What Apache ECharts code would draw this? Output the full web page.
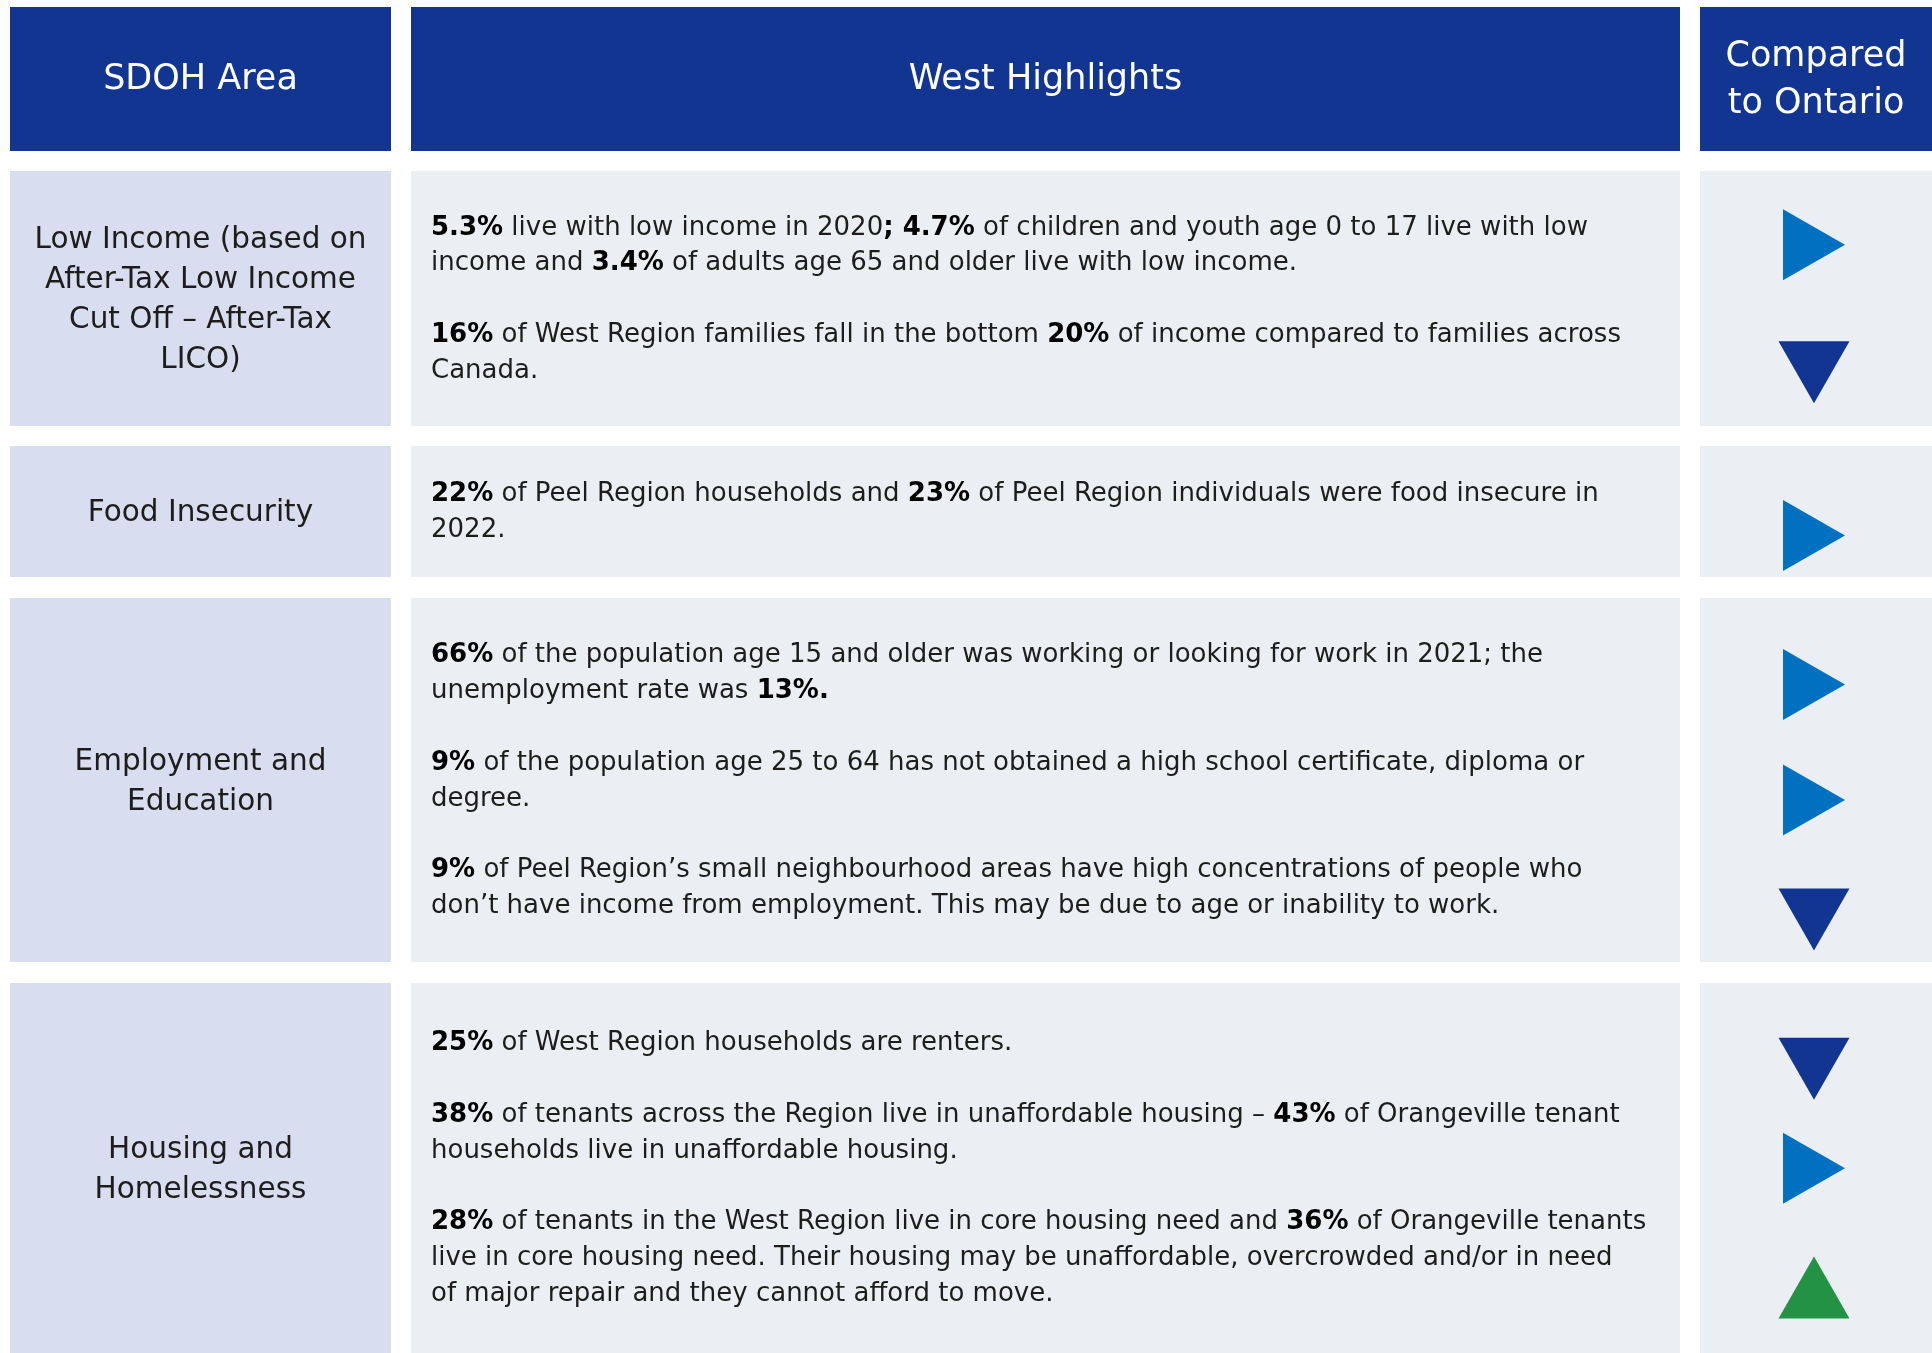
<!DOCTYPE html>
<html>
<head>
<meta charset="utf-8">
<script src="https://cdn.jsdelivr.net/npm/echarts@6/dist/echarts.min.js"></script>
<style>
  html, body { margin: 0; padding: 0; background: #ffffff; }
  #chart { width: 1932px; height: 1353px; }
</style>
</head>
<body>
<div id="chart"></div>
<script>
// ---- data ----
const headers = ['SDOH Area', 'West Highlights', 'Compared\nto Ontario']
const areas = [
  'Low Income (based on\nAfter-Tax Low Income\nCut Off – After-Tax\nLICO)',
  'Food Insecurity',
  'Employment and\nEducation',
  'Housing and\nHomelessness'
]
// each row: list of statements, each statement: list of wrapped lines ({b|..} = bold)
const highlights = [
  [
    ['{b|5.3%} live with low income in 2020{b|; 4.7%} of children and youth age 0 to 17 live with low',
      'income and {b|3.4%} of adults age 65 and older live with low income.'],
    ['{b|16%} of West Region families fall in the bottom {b|20%} of income compared to families across',
      'Canada.']
  ],
  [
    ['{b|22%} of Peel Region households and {b|23%} of Peel Region individuals were food insecure in',
      '2022.']
  ],
  [
    ['{b|66%} of the population age 15 and older was working or looking for work in 2021; the',
      'unemployment rate was {b|13%.}'],
    ['{b|9%} of the population age 25 to 64 has not obtained a high school certificate, diploma or',
      'degree.'],
    ['{b|9%} of Peel Region’s small neighbourhood areas have high concentrations of people who',
      'don’t have income from employment. This may be due to age or inability to work.']
  ],
  [
    ['{b|25%} of West Region households are renters.'],
    ['{b|38%} of tenants across the Region live in unaffordable housing – {b|43%} of Orangeville tenant',
      'households live in unaffordable housing.'],
    ['{b|28%} of tenants in the West Region live in core housing need and {b|36%} of Orangeville tenants',
      'live in core housing need. Their housing may be unaffordable, overcrowded and/or in need',
      'of major repair and they cannot afford to move.']
  ]
]
// compared to Ontario, one per statement
const comparisons = [
  ['similar', 'lower'],
  ['similar'],
  ['similar', 'similar', 'lower'],
  ['lower', 'similar', 'higher']
]

// ---- layout / style ----
const FONT = "'DejaVu Sans', sans-serif"
const colEdges = [[10, 391], [411, 1680], [1700, 1932]]
const rowEdges = [[7, 151], [171, 426], [446, 577], [598, 962], [983, 1353]]
const lineH = 35.8
const textPad = 20
const markerX = 1814
const markerShift = 20
// small per-marker vertical tweaks (px) so the arrows sit like in the source layout
const markerNudge = [[-20, 0], [4], [-8, 0, 12], [6, 16, 10]]
const colors = {
  header: '#113591',
  area: '#d8def0',
  body: '#ebeef2',
  text: '#1d1d1b'
}
const markerStyle = {
  similar: { color: '#0070c0', rotate: -90 },
  lower: { color: '#113591', rotate: 180 },
  higher: { color: '#239245', rotate: 0 }
}

const cells = []
for (let r = 0; r < rowEdges.length; r++) {
  for (let c = 0; c < colEdges.length; c++) cells.push([c, r])
}

function rowText (r) {
  return highlights[r].map(p => p.join('\n')).join('\n\n')
}

function markerData () {
  const pts = []
  highlights.forEach((paras, r) => {
    let total = 0
    const centers = []
    paras.forEach((p, i) => {
      if (i) total += 1
      centers.push(total + (p.length - 1) / 2)
      total += p.length
    })
    const [y0, y1] = rowEdges[r + 1]
    const mid = (y0 + y1) / 2
    centers.forEach((cl, i) => {
      const s = markerStyle[comparisons[r][i]]
      const y = mid + (cl - (total - 1) / 2) * lineH + markerShift + markerNudge[r][i]
      pts.push({
        value: [markerX, y],
        symbolRotate: s.rotate,
        itemStyle: { color: s.color, opacity: 1 }
      })
    })
  })
  return pts
}

function renderCell (params, api) {
  const c = api.value(0)
  const r = api.value(1)
  const p0 = api.coord([colEdges[c][0], rowEdges[r][0]])
  const p1 = api.coord([colEdges[c][1], rowEdges[r][1]])
  const w = p1[0] - p0[0]
  const h = p1[1] - p0[1]
  const children = []
  let fill = colors.body
  if (r === 0) fill = colors.header
  else if (c === 0) fill = colors.area
  children.push({ type: 'rect', shape: { x: p0[0], y: p0[1], width: w, height: h }, style: { fill: fill } })

  if (r === 0) {
    children.push({
      type: 'text',
      style: {
        text: headers[c], x: p0[0] + w / 2, y: p0[1] + h / 2 + 1,
        align: 'center', verticalAlign: 'middle',
        fill: '#ffffff', fontSize: 35, fontFamily: FONT, lineHeight: 47
      }
    })
  } else if (c === 0) {
    children.push({
      type: 'text',
      style: {
        text: areas[r - 1], x: p0[0] + w / 2, y: p0[1] + h / 2 + 2,
        align: 'center', verticalAlign: 'middle',
        fill: colors.text, fontSize: 29.5, fontFamily: FONT, lineHeight: 40
      }
    })
  } else if (c === 1) {
    children.push({
      type: 'text',
      style: {
        text: rowText(r - 1), x: p0[0] + textPad, y: p0[1] + h / 2 + 1,
        align: 'left', verticalAlign: 'middle',
        fill: colors.text, fontSize: 26, fontFamily: FONT, lineHeight: lineH,
        rich: {
          b: { fontSize: 26, fontFamily: FONT, fontWeight: 'bold', lineHeight: lineH, fill: '#000000' }
        }
      }
    })
  }
  return { type: 'group', children: children }
}

const chart = echarts.init(document.getElementById('chart'))
chart.setOption({
  animation: false,
  backgroundColor: '#ffffff',
  grid: { left: 0, right: 0, top: 0, bottom: 0 },
  xAxis: { type: 'value', min: 0, max: 1932, show: false },
  yAxis: { type: 'value', min: 0, max: 1353, inverse: true, show: false },
  series: [{
    type: 'custom',
    data: cells,
    renderItem: renderCell,
    silent: true,
    z: 1
  }, {
    type: 'scatter',
    data: markerData(),
    symbol: 'triangle',
    symbolSize: [71, 62],
    silent: true,
    z: 3
  }]
})
</script>
</body>
</html>
